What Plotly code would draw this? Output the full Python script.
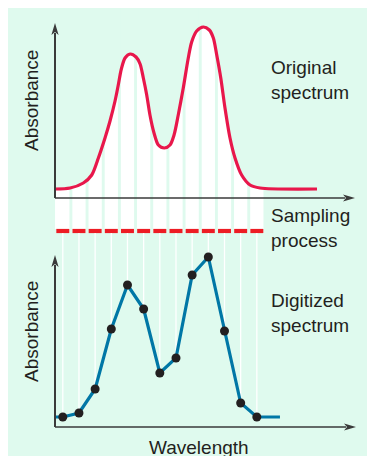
import numpy as np
import plotly.graph_objects as go

# ---- values ----------------------------------------------------------------
# original (continuous) spectrum; wavelength in sampling-step units
orig_wl = [-0.48, 0.45, 1.27, 1.79, 2.20, 2.61, 2.92, 3.23, 3.43, 3.62, 3.85,
           4.16, 4.53, 4.78, 4.98, 5.19, 5.39, 5.64, 5.91, 6.28, 6.63, 6.88,
           7.14, 7.45, 7.76, 7.97, 8.28, 8.69, 9.06, 9.31, 9.52, 9.77, 10.03,
           10.34, 10.65, 11.06, 11.58, 12.20, 15.72]
orig_abs = [0.09, 0.10, 0.15, 0.23, 0.40, 0.60, 0.77, 0.97, 1.13, 1.29, 1.40,
            1.44, 1.41, 1.34, 1.20, 1.03, 0.83, 0.65, 0.53, 0.50, 0.53, 0.63,
            0.83, 1.10, 1.40, 1.56, 1.67, 1.71, 1.68, 1.60, 1.43, 1.20, 0.90,
            0.60, 0.40, 0.23, 0.13, 0.10, 0.09]

# sampling points and the digitized absorbance at each
sample_wl = list(range(13))
digit_abs = [0.10, 0.14, 0.38, 0.98, 1.42, 1.18, 0.54, 0.69, 1.52, 1.70,
             0.96, 0.24, 0.10]
digit_ends = [-0.48, 13.43]

labels_right = ["Original", "spectrum", "Sampling", "process",
                "Digitized", "spectrum"]

# ---- geometry (page pixels; the page body adds an 8px offset) -------------
W, H = 375, 456
OFF = 8
X0, DX = 62.8, 16.17          # pixel of sample 0, pixels per sample step
UP0, LO0, YS = 198, 427, 100  # baseline pixel of each panel, px per unit

MINT = "#DFFAEE"
RED = "#E8174B"
DASH_RED = "#ED1C24"
BLUE = "#0077A6"
INK = "#231F20"
AXIS = "#3A3A3A"
FONT = "Liberation Sans, Arial, sans-serif"
FS = 19

def fx(p):
    return (p - X0) / DX

def up(q):
    return (UP0 - q) / YS

def lo(q):
    return (LO0 - q) / YS

def px(p):
    return (p - OFF) / W

def py(q):
    return 1 - (q - OFF) / H

fig = go.Figure()

# white sampling columns under the original curve (and down to the dashes)
col_half = 0.41
col_l, col_r = sample_wl[0] - col_half, sample_wl[-1] + col_half
band_bot = up(229)
wl = np.array(orig_wl)
ab = np.array(orig_abs)
keep = wl < col_r
fill_x = list(wl[keep]) + [col_r, col_r, wl[0]]
fill_y = list(ab[keep]) + [float(np.interp(col_r, wl, ab)), band_bot, band_bot]
fig.add_trace(go.Scatter(x=fill_x, y=fill_y, fill="toself", fillcolor="white",
                         mode="lines", line=dict(width=0), hoverinfo="skip"))

# mint gaps between the columns
gap_x, gap_y = [], []
gh = 0.5 - col_half
for a, b in zip(sample_wl[:-1], sample_wl[1:]):
    m = (a + b) / 2
    gap_x += [m - gh, m + gh, m + gh, m - gh, None]
    gap_y += [band_bot, band_bot, 2.0, 2.0, None]
fig.add_trace(go.Scatter(x=gap_x, y=gap_y, fill="toself", fillcolor=MINT,
                         mode="lines", line=dict(width=0), hoverinfo="skip"))

# original spectrum
fig.add_trace(go.Scatter(x=orig_wl, y=orig_abs, mode="lines",
                         line=dict(color=RED, width=3.2, shape="spline",
                                   smoothing=0.8), hoverinfo="skip"))

# red sampling dashes
dash_half = 0.40
dx_, dy_ = [], []
for s in sample_wl:
    dx_ += [s - dash_half, s + dash_half, None]
    dy_ += [up(231), up(231), None]
fig.add_trace(go.Scatter(x=dx_, y=dy_, mode="lines",
                         line=dict(color=DASH_RED, width=4.2), hoverinfo="skip"))

vx, vy = [], []
for s, v in zip(sample_wl, digit_abs):
    vx += [s, s, None]
    vy += [lo(233), v, None]
fig.add_trace(go.Scatter(x=vx, y=vy, yaxis="y2", mode="lines",
                         line=dict(color="white", width=1.3), hoverinfo="skip"))

fig.add_trace(go.Scatter(x=[digit_ends[0]] + sample_wl + [digit_ends[1]],
                         y=[digit_abs[0]] + digit_abs + [digit_abs[-1]],
                         yaxis="y2", mode="lines",
                         line=dict(color=BLUE, width=3.2), hoverinfo="skip"))
fig.add_trace(go.Scatter(x=sample_wl, y=digit_abs, yaxis="y2", mode="markers",
                         marker=dict(color=INK, size=9), hoverinfo="skip"))

# axes with arrow heads
ax_x = fx(55)
shapes = []
for yref, yconv, tip_y, tip_x in [("y", up, 23, 355), ("y2", lo, 255, 356)]:
    shapes.append(dict(type="line", xref="x", yref=yref, x0=ax_x, x1=ax_x,
                       y0=0, y1=yconv(tip_y + 10), layer="above",
                       line=dict(color=AXIS, width=2)))
    shapes.append(dict(type="line", xref="x", yref=yref, x0=ax_x, x1=fx(tip_x - 10),
                       y0=0, y1=0, layer="above",
                       line=dict(color=AXIS, width=1.6)))
    shapes.append(dict(type="path", xref="x", yref=yref, xsizemode="pixel",
                       ysizemode="pixel", xanchor=ax_x, yanchor=yconv(tip_y),
                       path="M0,0 L-3.6,-12 L0,-9 L3.6,-12 Z",
                       fillcolor=AXIS, line=dict(width=0), layer="above"))
    shapes.append(dict(type="path", xref="x", yref=yref, xsizemode="pixel",
                       ysizemode="pixel", xanchor=fx(tip_x), yanchor=0,
                       path="M0,0 L-12,3.6 L-9,0 L-12,-3.6 Z",
                       fillcolor=AXIS, line=dict(width=0), layer="above"))

# text
ann = []
for t, yc in zip(labels_right, [68, 93, 215, 240, 300, 325]):
    ann.append(dict(text=t, x=px(269), y=py(yc), xref="paper", yref="paper",
                    xanchor="left", yanchor="middle", showarrow=False,
                    font=dict(family=FONT, size=FS, color=INK)))
for yc in [101, 332]:
    ann.append(dict(text="Absorbance", x=px(31), y=py(yc), xref="paper",
                    yref="paper", textangle=-90, xanchor="center",
                    yanchor="middle", showarrow=False,
                    font=dict(family=FONT, size=FS, color=INK)))
ann.append(dict(text="Wavelength", x=px(199), y=py(447), xref="paper",
                yref="paper", xanchor="center", yanchor="middle",
                showarrow=False, font=dict(family=FONT, size=FS, color=INK)))

fig.update_layout(
    width=W, height=H, autosize=False,
    margin=dict(l=0, r=0, t=0, b=0, pad=0),
    paper_bgcolor=MINT, plot_bgcolor="rgba(0,0,0,0)",
    showlegend=False,
    xaxis=dict(range=[fx(OFF), fx(OFF + W)], visible=False, fixedrange=True),
    yaxis=dict(range=[up(OFF + H), up(OFF)], visible=False, fixedrange=True),
    yaxis2=dict(range=[lo(OFF + H), lo(OFF)], visible=False, fixedrange=True,
                overlaying="y"),
    shapes=shapes, annotations=ann,
)

fig.write_html("out.html", config={"displayModeBar": False})
